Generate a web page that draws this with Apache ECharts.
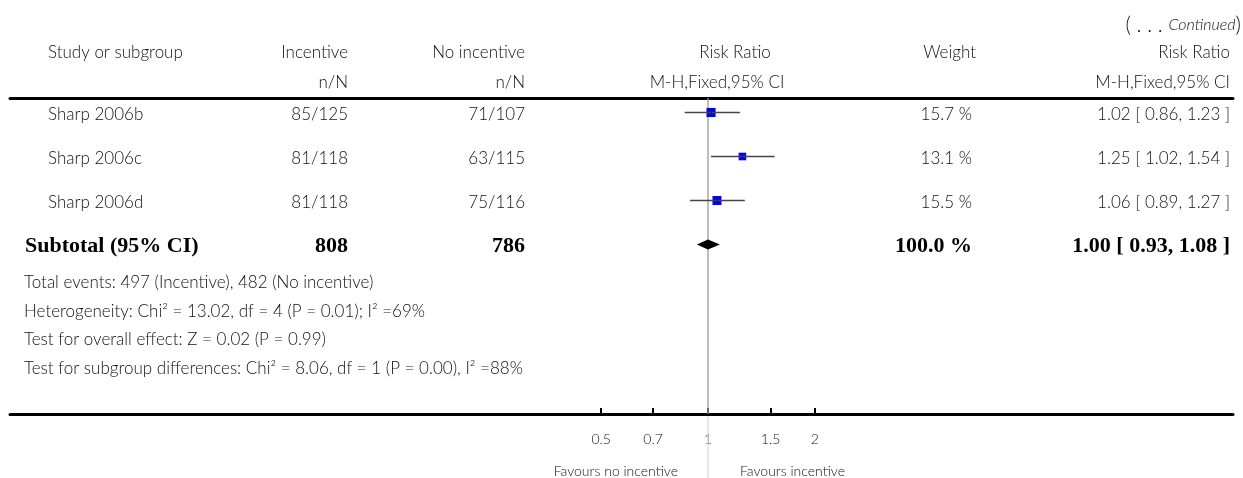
<!DOCTYPE html>
<html><head><meta charset="utf-8">
<script src="https://cdn.jsdelivr.net/npm/echarts@6/dist/echarts.min.js"></script>
<style>html,body{margin:0;padding:0;background:#fff}#c{width:1243px;height:478px}</style>
</head><body><div id="c"></div>
<script>
// ---- data ----
const studies = ['Sharp 2006b', 'Sharp 2006c', 'Sharp 2006d'];
const incentiveNN = ['85/125', '81/118', '81/118'];
const noIncentiveNN = ['71/107', '63/115', '75/116'];
const riskRatio = [1.02, 1.25, 1.06];
const ciLow = [0.86, 1.02, 0.89];
const ciHigh = [1.23, 1.54, 1.27];
const weights = [15.7, 13.1, 15.5];
const weightLabels = ['15.7 %', '13.1 %', '15.5 %'];
const rrLabels = ['1.02 [ 0.86, 1.23 ]', '1.25 [ 1.02, 1.54 ]', '1.06 [ 0.89, 1.27 ]'];
const subtotalRow = ['Subtotal (95% CI)', '808', '786', '100.0 %', '1.00 [ 0.93, 1.08 ]'];
const subtotalRR = [1.00, 0.93, 1.08]; // estimate, low, high
const footnotes = [
  'Total events: 497 (Incentive), 482 (No incentive)',
  'Heterogeneity: Chi\u00B2 = 13.02, df = 4 (P = 0.01); I\u00B2 =69%',
  'Test for overall effect: Z = 0.02 (P = 0.99)',
  'Test for subgroup differences: Chi\u00B2 = 8.06, df = 1 (P = 0.00), I\u00B2 =88%'
];
const tickValues = [0.5, 0.7, 1, 1.5, 2];
const tickLabels = ['0.5', '0.7', '1', '1.5', '2'];
const favourLeft = 'Favours no incentive';
const favourRight = 'Favours incentive';

// ---- layout ----
const lg = v => Math.log10(v);
const W = 1243, H = 478;
const GL = 10, GR = 10, GT = 98, GB = 64;
const PX_PER_DECADE = 355, ONE_X = 708;
const xMinLog = -(ONE_X - GL) / PX_PER_DECADE;
const xMaxLog = (W - GR - ONE_X) / PX_PER_DECADE;
const ROW_H = 44;
const yMin = -14.5 / ROW_H;
const yMax = yMin + (H - GB - GT) / ROW_H;
const SANS = 'Lato, "Open Sans", sans-serif';
const SERIF = '"Liberation Serif", "DejaVu Serif", serif';
const TXT = '#111';

const chart = echarts.init(document.getElementById('c'), null, {renderer: 'canvas'});

const ciData = studies.map((s, i) => [lg(riskRatio[i]), lg(ciLow[i]), lg(ciHigh[i]), i, weights[i]]);
const diamondData = [[lg(subtotalRR[0]), lg(subtotalRR[1]), lg(subtotalRR[2]), studies.length]];

const baseX = {
  type: 'value', min: xMinLog, max: xMaxLog, gridIndex: 0,
  splitLine: {show: false}
};

chart.setOption({
  animation: false,
  grid: {left: GL, right: GR, top: GT, bottom: GB, containLabel: false},
  xAxis: [
    Object.assign({}, baseX, {
      position: 'bottom',
      axisLine: {show: true, onZero: false, lineStyle: {color: '#000', width: 3}},
      axisTick: {show: true, inside: true, length: 6, customValues: tickValues.map(lg),
                 lineStyle: {color: '#000', width: 2}},
      axisLabel: {show: true, customValues: tickValues.map(lg), margin: 18,
                  fontSize: 14, fontWeight: 300, fontFamily: SANS, color: TXT,
                  formatter: v => {
                    let best = 0;
                    tickValues.forEach((t, i) => { if (Math.abs(lg(t) - v) < Math.abs(lg(tickValues[best]) - v)) best = i; });
                    return tickLabels[best];
                  }}
    }),
    Object.assign({}, baseX, {
      position: 'top',
      axisLine: {show: true, onZero: false, lineStyle: {color: '#000', width: 3}},
      axisTick: {show: false}, axisLabel: {show: false}
    })
  ],
  yAxis: {type: 'value', inverse: true, min: yMin, max: yMax, show: false},
  series: [
    {
      type: 'custom', clip: false, xAxisIndex: 0, yAxisIndex: 0,
      data: [[0, 0]],
      renderItem: (params, api) => {
        const cs = params.coordSys;
        const x = api.coord([api.value(0), 0])[0];
        return {type: 'group', children: [
          {type: 'line', shape: {x1: x, y1: cs.y, x2: x, y2: cs.y + cs.height}, style: {stroke: '#9a9a9a', lineWidth: 1.3}},
          {type: 'line', shape: {x1: x, y1: cs.y + cs.height + 2, x2: x, y2: api.getHeight()}, style: {stroke: '#dcdcdc', lineWidth: 1.3}}
        ]};
      },
      z: 1
    },
    {
      type: 'custom', clip: false,
      data: ciData,
      encode: {x: [0, 1, 2], y: 3},
      renderItem: (params, api) => {
        const row = api.value(3);
        const c = api.coord([api.value(0), row]);
        const l = api.coord([api.value(1), row]);
        const h = api.coord([api.value(2), row]);
        const s = api.value(4) * 0.58;
        return {type: 'group', children: [
          {type: 'rect', shape: {x: c[0] - s / 2, y: c[1] - s / 2, width: s, height: s}, style: {fill: '#0000ff'}},
          {type: 'line', shape: {x1: l[0], y1: l[1], x2: h[0], y2: h[1]}, style: {stroke: '#444', lineWidth: 1.5}},
          {type: 'line', shape: {x1: c[0], y1: c[1] - 3, x2: c[0], y2: c[1] + 3}, style: {stroke: '#222', lineWidth: 1}}
        ]};
      },
      z: 3
    },
    {
      type: 'custom', clip: false,
      data: diamondData,
      encode: {x: [0, 1, 2], y: 3},
      renderItem: (params, api) => {
        const row = api.value(3);
        const c = api.coord([api.value(0), row]);
        const l = api.coord([api.value(1), row]);
        const h = api.coord([api.value(2), row]);
        return {type: 'polygon', shape: {points: [[l[0], c[1]], [c[0], c[1] - 5], [h[0], c[1]], [c[0], c[1] + 5]]},
                style: {fill: '#000'}};
      },
      z: 3
    }
  ]
});

// ---- table text ----
function txt(text, x, y, align, font, fill) {
  return {
    type: 'text', x: x, y: y, silent: true,
    style: {text: text, font: font, fill: fill || TXT, align: align, textAlign: align,
            verticalAlign: 'middle', textVerticalAlign: 'middle'}
  };
}
const F = '300 17px ' + SANS;
const FB = 'bold 22px ' + SERIF;
const C_STUDY = 48, C_INC = 348, C_NOINC = 525, C_W = 974, C_RR = 1230;
const rowY = i => chart.convertToPixel({xAxisIndex: 0, yAxisIndex: 0}, [0, i])[1] + 2;

const g = [];
// headers
g.push(txt('Study or subgroup', C_STUDY, 53, 'left', F));
g.push(txt('Incentive', C_INC, 53, 'right', F));
g.push(txt('No incentive', C_NOINC, 53, 'right', F));
g.push(txt('Risk Ratio', 735, 53, 'center', F));
g.push(txt('Weight', C_W + 2, 53, 'right', F));
g.push(txt('Risk Ratio', C_RR, 53, 'right', F));
g.push(txt('n/N', C_INC, 83, 'right', F));
g.push(txt('n/N', C_NOINC, 83, 'right', F));
g.push(txt('M-H,Fixed,95% CI', 717, 83, 'center', F));
g.push(txt('M-H,Fixed,95% CI', C_RR, 83, 'right', F));
g.push({
  type: 'text', x: 1241, y: 25, silent: true,
  style: {text: '{p|( . . . }{i|Continued}{p|)}', align: 'right', textAlign: 'right',
          verticalAlign: 'middle', textVerticalAlign: 'middle', fill: TXT,
          rich: {p: {fontSize: 21, fontWeight: 300, fontFamily: SANS, fill: TXT, color: TXT},
                 i: {fontSize: 16, fontWeight: 300, fontStyle: 'italic', fontFamily: SANS, fill: TXT, color: TXT}}}
});
// study rows
studies.forEach((s, i) => {
  const y = rowY(i);
  g.push(txt(s, C_STUDY, y, 'left', F));
  g.push(txt(incentiveNN[i], C_INC, y, 'right', F));
  g.push(txt(noIncentiveNN[i], C_NOINC, y, 'right', F));
  g.push(txt(weightLabels[i], C_W - 2, y, 'right', F));
  g.push(txt(rrLabels[i], C_RR, y, 'right', F));
});
// subtotal
{
  const y = rowY(studies.length);
  g.push(txt(subtotalRow[0], 25, y, 'left', FB, '#000'));
  [[subtotalRow[1], C_INC], [subtotalRow[2], C_NOINC], [subtotalRow[3], C_W - 2], [subtotalRow[4], C_RR]].forEach(([t, x]) => {
    g.push(txt(t, x, y, 'right', FB, '#000'));
  });
}
// footnotes
const footY = [283, 312, 340, 369];
footnotes.forEach((t, i) => g.push(txt(t, 24, footY[i], 'left', F)));
// favours labels
g.push(txt(favourLeft, ONE_X - 30, 471, 'right', '300 14px ' + SANS));
g.push(txt(favourRight, ONE_X + 32, 471, 'left', '300 14px ' + SANS));

chart.setOption({graphic: {elements: g}});
</script>
</body></html>
